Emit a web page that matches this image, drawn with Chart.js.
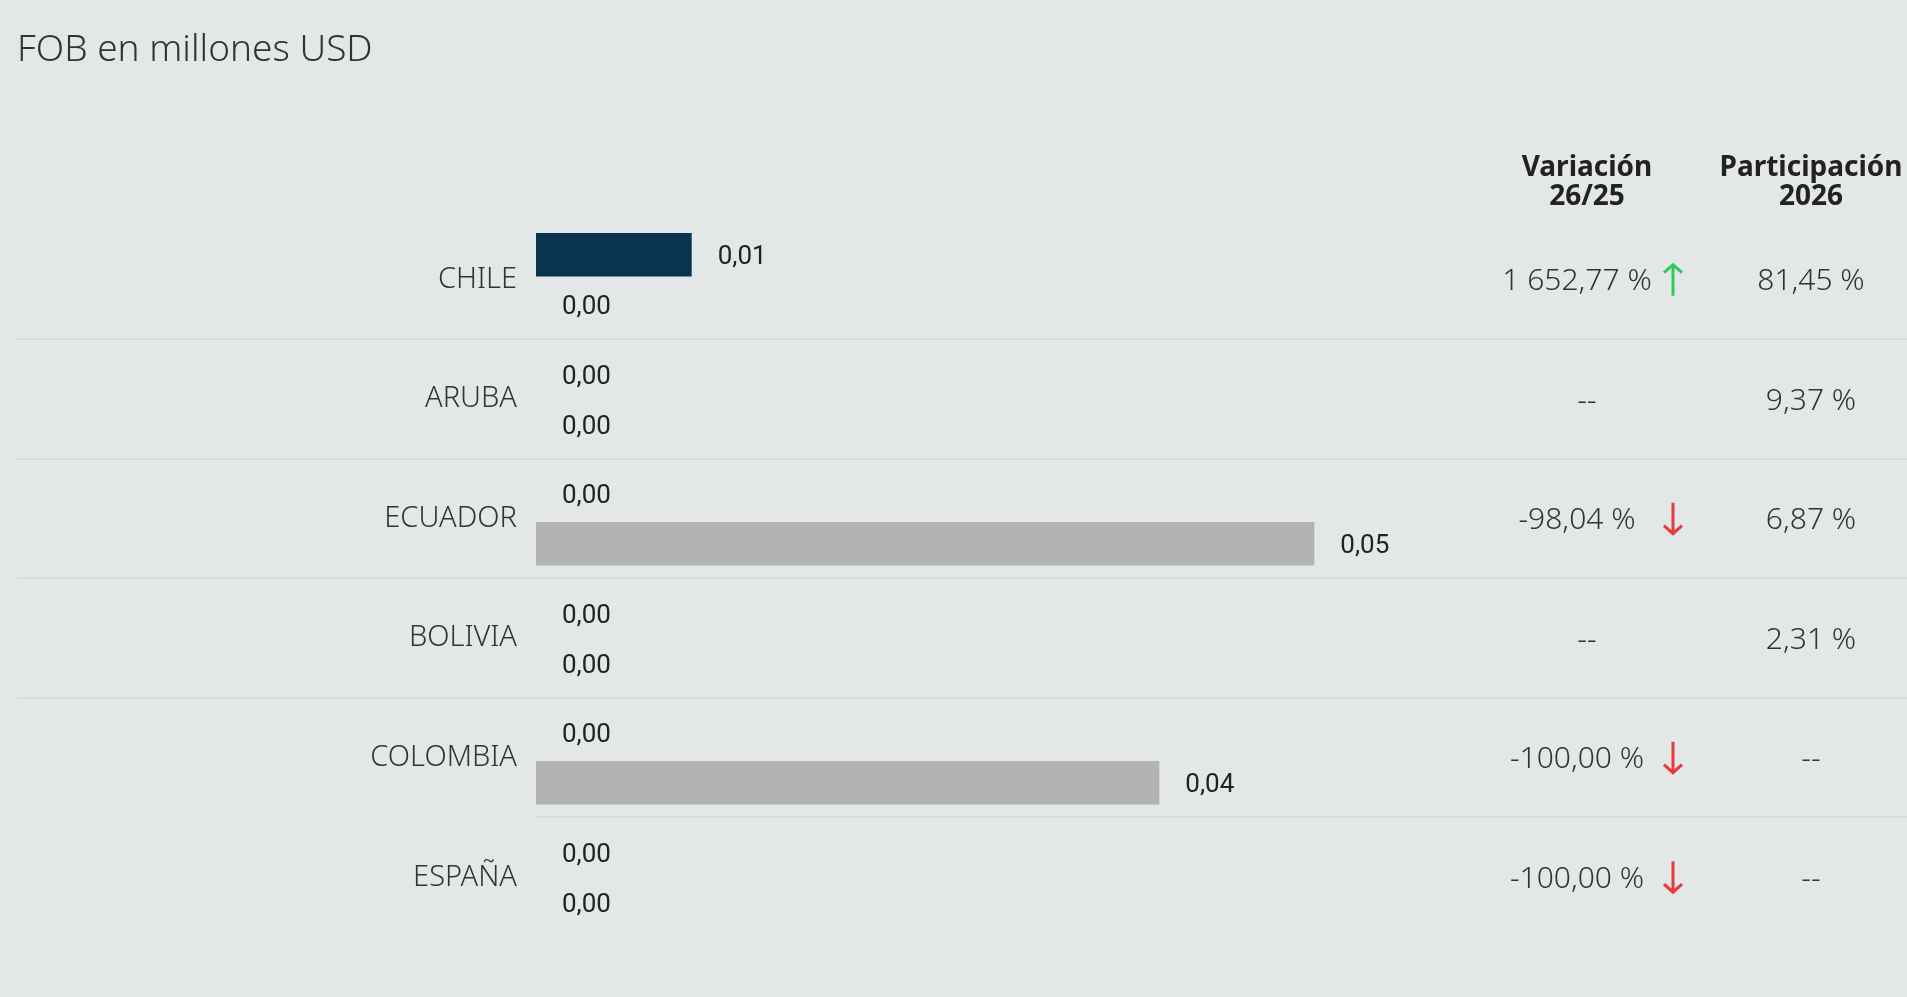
<!DOCTYPE html>
<html lang="es">
<head>
<meta charset="utf-8">
<title>FOB en millones USD</title>
<script src="https://cdn.jsdelivr.net/npm/chart.js@4.4.1/dist/chart.umd.min.js"></script>
<style>
  html, body { margin: 0; padding: 0; background: #e3e7e8; }
  #wrap { width: 1907px; height: 997px; position: relative; }
</style>
</head>
<body>
<div id="wrap"><canvas id="chart"></canvas></div>
<script>
// datos
const paises = ['CHILE', 'ARUBA', 'ECUADOR', 'BOLIVIA', 'COLOMBIA', 'ESPAÑA'];
const fob2026 = [0.00994, 0, 0, 0, 0, 0];
const fob2025 = [0, 0, 0.0497, 0, 0.0398, 0];
const variacion = ['1 652,77 %', '--', '-98,04 %', '--', '-100,00 %', '-100,00 %'];
const tendencia = ['up', null, 'down', null, 'down', 'down'];
const participacion = ['81,45 %', '9,37 %', '6,87 %', '2,31 %', '--', '--'];

const FONT = "'Noto Sans', sans-serif";
const NUM_FONT = "Roboto, sans-serif";
const colores = {navy: '#08344f', gris: '#b3b3b3', linea: '#d8dadc', texto: '#333', verde: '#2ecc55', rojo: '#e8393c'};

function fmt(v){ return v.toFixed(2).replace('.', ','); }

function flecha(ctx, x, yc, dir, color){
    const h = 32, w = 9;
    const y0 = yc - h/2, y1 = yc + h/2;
    ctx.save();
    ctx.strokeStyle = color; ctx.lineWidth = 3; ctx.lineCap = 'butt';
    ctx.beginPath();
    ctx.moveTo(x, y0); ctx.lineTo(x, y1);
    if (dir === 'up'){ ctx.moveTo(x - w, y0 + w); ctx.lineTo(x, y0 + 1); ctx.lineTo(x + w, y0 + w); }
    else { ctx.moveTo(x - w, y1 - w); ctx.lineTo(x, y1 - 1); ctx.lineTo(x + w, y1 - w); }
    ctx.stroke();
    ctx.restore();
}

// separadores, etiquetas de valor y columnas de la tabla
const tablaPlugin = {
    id: 'tabla',
    afterDatasetsDraw(chart){
        const ctx = chart.ctx;
        const ys = chart.scales.y;
        const area = chart.chartArea;
        const n = paises.length;
        const band = ys.getPixelForValue(1) - ys.getPixelForValue(0);

        ctx.save();
        ctx.fillStyle = colores.linea;
        for (let i = 0; i < n - 1; i++){
            const yy = Math.round(ys.getPixelForValue(i) + band/2);
            const x0 = (i === n - 2) ? area.left : 17;
            ctx.fillRect(x0, yy - 1, chart.width - x0, 2);
        }

        // etiquetas de barras
        ctx.font = '400 26px ' + NUM_FONT;
        ctx.fillStyle = '#222';
        ctx.textAlign = 'left';
        ctx.textBaseline = 'middle';
        chart.data.datasets.forEach((ds, di)=>{
            const meta = chart.getDatasetMeta(di);
            meta.data.forEach((bar, i)=>{
                ctx.fillText(fmt(ds.data[i]), bar.x + 26, bar.y + 3);
            });
        });

        // encabezados
        const colVar = 1587, colPart = 1811;
        ctx.font = 'bold 28px ' + FONT;
        ctx.fillStyle = '#222';
        ctx.textAlign = 'center';
        ctx.fillText('Variación', colVar, area.top - 52);
        ctx.fillText('26/25', colVar, area.top - 23);
        ctx.fillText('Participación', colPart, area.top - 52);
        ctx.fillText('2026', colPart, area.top - 23);

        // valores
        ctx.font = '300 30px ' + FONT;
        ctx.fillStyle = colores.texto;
        paises.forEach((p, i)=>{
            const yc = ys.getPixelForValue(i);
            if (tendencia[i]){
                ctx.fillText(variacion[i], 1577, yc + 2);
                flecha(ctx, 1673, yc, tendencia[i], tendencia[i] === 'up' ? colores.verde : colores.rojo);
            } else {
                ctx.fillText(variacion[i], colVar, yc + 2);
            }
            ctx.fillText(participacion[i], colPart, yc + 2);
        });
        ctx.restore();
    }
};

const chart = new Chart(document.getElementById('chart').getContext('2d'), {
    type: 'bar',
    data: {
        labels: paises,
        datasets: [
            {label: '2026', data: fob2026, backgroundColor: colores.navy, categoryPercentage: 0.837, barPercentage: 0.87},
            {label: '2025', data: fob2025, backgroundColor: colores.gris, categoryPercentage: 0.837, barPercentage: 0.87}
        ]
    },
    options: {
        indexAxis: 'y',
        responsive: true,
        maintainAspectRatio: false,
        animation: false,
        layout: {padding: {left: 17, right: 447, top: 0, bottom: 60}},
        plugins: {
            legend: {display: false},
            tooltip: {enabled: false},
            title: {
                display: true,
                text: 'FOB en millones USD',
                align: 'start',
                color: colores.texto,
                font: {family: FONT, size: 37, weight: '300'},
                padding: {top: 28.5, bottom: 147}
            }
        },
        scales: {
            x: {display: false, min: 0, max: 0.059},
            y: {
                grid: {display: false, drawTicks: false},
                border: {display: false},
                ticks: {color: colores.texto, padding: 19, font: {family: FONT, size: 29, weight: '300'}},
                afterFit(scale){ scale.width = 519; }
            }
        }
    },
    plugins: [tablaPlugin]
});
</script>
</body>
</html>
